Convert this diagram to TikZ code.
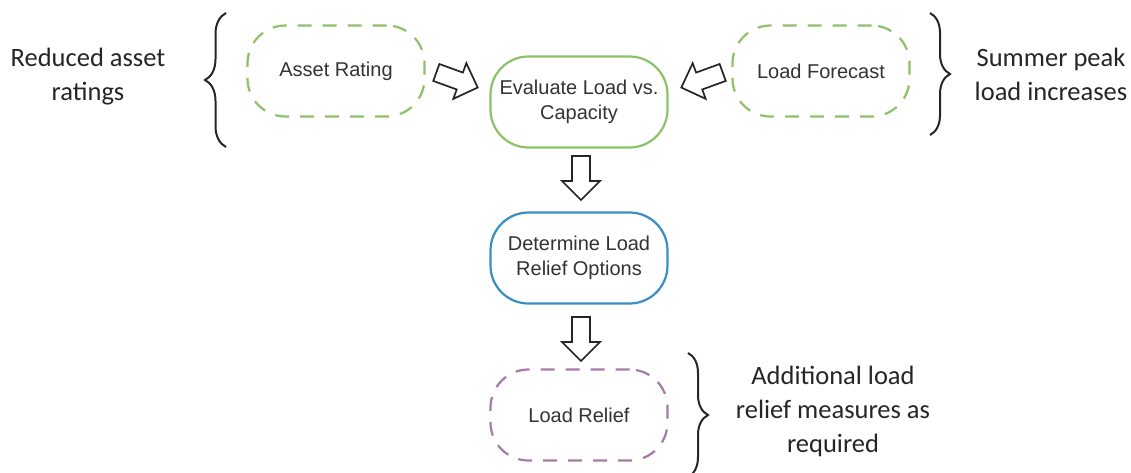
\documentclass[tikz,border=0pt]{standalone}
\usepackage{fontspec}
\setmainfont{Liberation Sans}
\newfontfamily\calib{Carlito}
\usetikzlibrary{decorations.pathreplacing}
\definecolor{lgreen}{HTML}{8DC26B}
\definecolor{lblue}{HTML}{3B8EC2}
\definecolor{lpurple}{HTML}{A57CA6}
\definecolor{txt}{HTML}{333333}
\tikzset{
  stadium/.style={draw, line width=2.2pt, rounded corners=38pt, minimum width=177pt, minimum height=91pt, align=center, text=txt, font=\fontsize{20}{24.5}\selectfont},
  dashbox/.style={stadium, dash pattern=on 14pt off 11pt},
  sidetext/.style={align=center, text=black!85, font=\calib\fontsize{26.5}{34}\selectfont},
  arrowline/.style={draw=black!85, fill=white, line width=1.7pt, line join=miter},
  blockarrow/.pic={
    \path[arrowline] (-22,-9) -- (3,-9) -- (3,-19) -- (22,0) -- (3,19) -- (3,9) -- (-22,9) -- cycle;
  },
  bracestyle/.style={draw=black!85, line width=2pt, decorate, decoration={brace, amplitude=#1}},
}
\begin{document}
\begin{tikzpicture}[x=1pt,y=-1pt]
\useasboundingbox (0,0) rectangle (1131,472);
\fill[white] (0,0) rectangle (1131,472);
% boxes
\node[dashbox, draw=lgreen] (asset) at (336,71) {Asset Rating};
\node[stadium, draw=lgreen] (eval) at (579,102) {Evaluate Load vs.\\Capacity};
\node[dashbox, draw=lgreen] (fore) at (821,71) {Load Forecast};
\node[stadium, draw=lblue] (det) at (579,258) {Determine Load\\Relief Options};
\node[dashbox, draw=lpurple] (relief) at (579,415) {Load Relief};
% block arrows
\pic[rotate=-20] (a1) at (457,80) {blockarrow};
\pic[rotate=200] (a2) at (702,80) {blockarrow};
\pic[rotate=-90] (a3) at (581,178) {blockarrow};
\pic[rotate=-90] (a4) at (581,339) {blockarrow};
% braces
\coordinate (b1s) at (226,147);
\coordinate (b1e) at (226,13);
\draw[bracestyle=21pt] (b1s) -- (b1e);
\coordinate (b2s) at (930,13);
\coordinate (b2e) at (930,135);
\draw[bracestyle=20pt] (b2s) -- (b2e);
\coordinate (b3s) at (688,353);
\coordinate (b3e) at (688,477);
\draw[bracestyle=20pt] (b3s) -- (b3e);
% side texts
\node[sidetext] (t1) at (88,77) {Reduced asset\\ratings};
\node[sidetext] (t2) at (1051,74) {Summer peak\\load increases};
\node[sidetext] (t3) at (833,411) {Additional load\\relief measures as\\required};
\end{tikzpicture}
\end{document}
